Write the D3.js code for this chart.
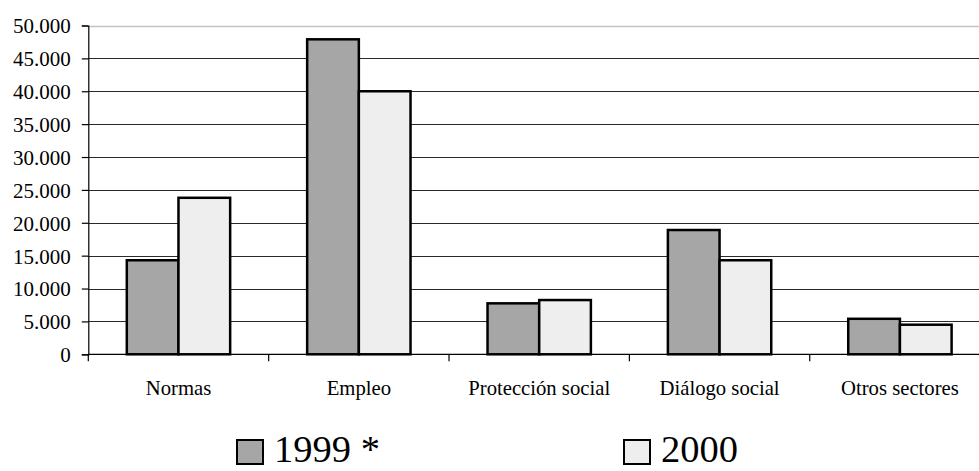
<!DOCTYPE html>
<html>
<head>
<meta charset="utf-8">
<script src="https://cdn.jsdelivr.net/npm/d3@7"></script>
<style>
  html, body { margin: 0; padding: 0; background: #fff; }
  svg { display: block; }
  svg text { font-family: "Liberation Serif", "Times New Roman", serif !important; fill: #000; }
</style>
</head>
<body>
<script>
const categories = ["Normas", "Empleo", "Protección social", "Diálogo social", "Otros sectores"];
const seriesNames = ["1999 *", "2000"];
const values1999 = [14300, 47900, 7750, 18900, 5400];
const values2000 = [23800, 40000, 8250, 14300, 4500];
const yTicks = [0, 5000, 10000, 15000, 20000, 25000, 30000, 35000, 40000, 45000, 50000];
const seriesColors = ["#a6a6a6", "#eeeeee"];

(function () {
const W = 979, H = 471;
const mLeft = 88.3, mRight = 990.1, mTop = 25.5, mBottom = 354.3;
const serif = '"Liberation Serif", "Times New Roman", serif';

const svg = d3.select("body").append("svg").attr("width", W).attr("height", H)
  .attr("font-family", serif);

const locale = d3.formatLocale({ decimal: ",", thousands: ".", grouping: [3], currency: ["", "€"] });
const fmt = locale.format(",d");

const y = d3.scaleLinear().domain([0, 50000]).range([mBottom, mTop]);
const x0 = d3.scaleBand().domain(categories).range([mLeft, mRight]).padding(0);
const gap = 38.5;
const x1 = d3.scaleBand().domain(seriesNames).range([gap, x0.bandwidth() - gap]).padding(0);

// gridlines
svg.append("g").selectAll("line").data(yTicks.filter(d => d > 0)).join("line")
  .attr("x1", mLeft).attr("x2", W)
  .attr("y1", d => Math.round(y(d)) + 0.5).attr("y2", d => Math.round(y(d)) + 0.5)
  .attr("stroke", d => d === 50000 ? "#c4c4c4" : "#2a2a2a")
  .attr("stroke-width", d => d === 50000 ? 1.5 : 1);

// bars
const data = categories.map((c, i) => ({ cat: c, vals: [values1999[i], values2000[i]] }));
const groups = svg.append("g").selectAll("g").data(data).join("g")
  .attr("transform", d => `translate(${x0(d.cat)},0)`);
groups.selectAll("rect").data(d => d.vals.map((v, j) => ({ v, s: seriesNames[j], j }))).join("rect")
  .attr("x", d => x1(d.s))
  .attr("width", x1.bandwidth())
  .attr("y", d => y(d.v))
  .attr("height", d => y(0) - y(d.v))
  .attr("fill", d => seriesColors[d.j])
  .attr("stroke", "#000")
  .attr("stroke-width", 2.5);

// y axis
const yAxis = d3.axisLeft(y).tickValues(yTicks).tickFormat(fmt).tickSizeOuter(0).tickSize(6.5).tickPadding(11);
const gy = svg.append("g").attr("transform", `translate(${mLeft},0)`).call(yAxis);
gy.attr("font-family", serif).attr("font-size", 21);
gy.selectAll("text").attr("font-family", serif).style("font-size", "21px").attr("dy", "0.35em");
gy.select(".domain").attr("stroke", "#000").attr("stroke-width", 1.2);
gy.selectAll(".tick line").attr("stroke", "#000").attr("stroke-width", 1.2);

// x axis line and ticks at category boundaries
svg.append("line").attr("x1", mLeft).attr("x2", W).attr("y1", mBottom).attr("y2", mBottom)
  .attr("stroke", "#000").attr("stroke-width", 1.2);
const boundaries = categories.map(c => x0(c));
svg.append("g").selectAll("line").data(boundaries).join("line")
  .attr("x1", d => d).attr("x2", d => d)
  .attr("y1", mBottom).attr("y2", mBottom + 7)
  .attr("stroke", "#000").attr("stroke-width", 1.2);

// category labels
svg.append("g").selectAll("text").data(categories).join("text")
  .attr("x", d => x0(d) + x0.bandwidth() / 2)
  .attr("y", 395)
  .attr("text-anchor", "middle")
  .attr("font-family", serif)
  .style("font-size", "20.7px")
  .text(d => d);

// legend
const legendPos = [237, 624];
const lg = svg.append("g").selectAll("g").data(seriesNames).join("g")
  .attr("transform", (d, i) => `translate(${legendPos[i]},0)`);
lg.append("rect").attr("x", 0).attr("y", 440).attr("width", 26).attr("height", 24)
  .attr("fill", (d, i) => seriesColors[i]).attr("stroke", "#000").attr("stroke-width", 2);
lg.append("text").attr("x", 37).attr("y", 462)
  .attr("font-family", serif)
  .style("font-size", "38.5px")
  .text(d => d);
})();
</script>
</body>
</html>
